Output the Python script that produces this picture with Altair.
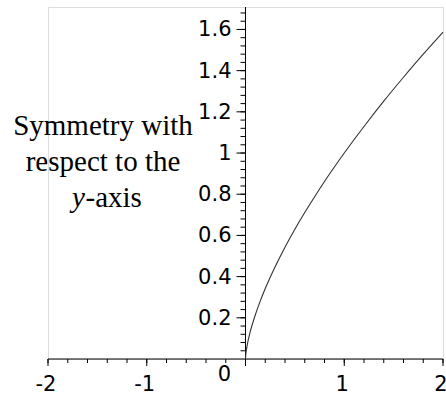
import altair as alt
import pandas as pd

# Curve y = |x|^(2/3) on the right half, sampled points
curve_x = [0.0, 0.002, 0.01, 0.02, 0.05, 0.1, 0.15, 0.2, 0.3, 0.4, 0.5, 0.6,
           0.7, 0.8, 0.9, 1.0, 1.2, 1.4, 1.6, 1.8, 2.0]
curve_y = [0.0, 0.016, 0.046, 0.074, 0.136, 0.215, 0.282, 0.342, 0.448, 0.543,
           0.630, 0.711, 0.788, 0.862, 0.932, 1.0, 1.129, 1.252, 1.368, 1.480, 1.587]

x_major = [-2, -1, 0, 1, 2]
x_major_labels = ["-2", "-1", "0", "1", "2"]
x_minor = [round(-2 + 0.2 * i, 2) for i in range(21)]
y_major = [0.2, 0.4, 0.6, 0.8, 1.0, 1.2, 1.4, 1.6]
y_major_labels = ["0.2", "0.4", "0.6", "0.8", "1", "1.2", "1.4", "1.6"]
y_minor = [round(0.04 * i, 2) for i in range(1, 43)]

note_lines = ["Symmetry with", "respect to the"]

W, H = 395, 352
X0 = W / 2  # pixel position of x = 0
YMAX = 1.709

xs = alt.Scale(domain=[-2, 2], nice=False, zero=False)
ys = alt.Scale(domain=[0, YMAX], nice=False, zero=False)

curve_df = pd.DataFrame({"x": curve_x, "y": curve_y})
xmaj_df = pd.DataFrame({"v": x_major, "t": x_major_labels})
xmin_df = pd.DataFrame({"v": x_minor})
ymaj_df = pd.DataFrame({"v": y_major, "t": y_major_labels})
ymin_df = pd.DataFrame({"v": y_minor})
xaxis_df = pd.DataFrame({"x": [-2], "x2": [2], "y": [0]})
yaxis_df = pd.DataFrame({"x": [0], "y": [0], "y2": [YMAX]})
one_df = pd.DataFrame({"k": [0]})

tick_font = "DejaVu Sans"
serif = "Liberation Serif"

curve = alt.Chart(curve_df).mark_line(
    color="#333333", strokeWidth=1.1, interpolate="monotone"
).encode(
    x=alt.X("x:Q", scale=xs, axis=None),
    y=alt.Y("y:Q", scale=ys, axis=None),
)

x_axis_line = alt.Chart(xaxis_df).mark_rule(color="black", strokeWidth=1).encode(
    x=alt.X("x:Q", scale=xs, axis=None), x2="x2:Q",
    y=alt.Y("y:Q", scale=ys, axis=None),
)
y_axis_line = alt.Chart(yaxis_df).mark_rule(color="black", strokeWidth=1).encode(
    x=alt.X("x:Q", scale=xs, axis=None),
    y=alt.Y("y:Q", scale=ys, axis=None), y2="y2:Q",
)

x_minor_ticks = alt.Chart(xmin_df).mark_rule(color="black").encode(
    x=alt.X("v:Q", scale=xs, axis=None), y=alt.value(H), y2=alt.value(H + 4)
)
x_major_ticks = alt.Chart(xmaj_df).mark_rule(color="black").encode(
    x=alt.X("v:Q", scale=xs, axis=None), y=alt.value(H), y2=alt.value(H + 7)
)
x_labels = alt.Chart(xmaj_df).transform_filter("datum.v != 0").mark_text(
    font=tick_font, fontSize=21, align="center", baseline="alphabetic", dx=-2, color="black"
).encode(
    x=alt.X("v:Q", scale=xs, axis=None), y=alt.value(H + 32), text="t:N"
)
x_zero_label = alt.Chart(xmaj_df).transform_filter("datum.v == 0").mark_text(
    font=tick_font, fontSize=21, align="center", baseline="alphabetic", dx=-21, color="black"
).encode(
    x=alt.X("v:Q", scale=xs, axis=None), y=alt.value(H + 22), text="t:N"
)

y_minor_ticks = alt.Chart(ymin_df).mark_rule(color="black").encode(
    y=alt.Y("v:Q", scale=ys, axis=None), x=alt.value(X0 - 5), x2=alt.value(X0)
)
y_major_ticks = alt.Chart(ymaj_df).mark_rule(color="black").encode(
    y=alt.Y("v:Q", scale=ys, axis=None), x=alt.value(X0 - 9), x2=alt.value(X0)
)
y_labels = alt.Chart(ymaj_df).mark_text(
    font=tick_font, fontSize=21, align="right", baseline="middle", dy=1, color="black"
).encode(
    y=alt.Y("v:Q", scale=ys, axis=None), x=alt.value(X0 - 14), text="t:N"
)

note = alt.Chart(one_df).mark_text(
    font=serif, fontSize=29, align="center", baseline="alphabetic",
    lineHeight=36, color="black"
).encode(x=alt.value(55), y=alt.value(128), text=alt.value(note_lines))

note_y = alt.Chart(one_df).mark_text(
    font=serif, fontSize=29, fontStyle="italic", align="left", baseline="alphabetic",
    color="black"
).encode(x=alt.value(24), y=alt.value(200), text=alt.value("y"))
note_axis = alt.Chart(one_df).mark_text(
    font=serif, fontSize=29, align="left", baseline="alphabetic", color="black"
).encode(x=alt.value(37.5), y=alt.value(200), text=alt.value("-axis"))

chart = alt.layer(
    x_axis_line, y_axis_line, x_minor_ticks, x_major_ticks, y_minor_ticks,
    y_major_ticks, curve, x_labels, x_zero_label, y_labels, note, note_y, note_axis
).properties(
    width=W, height=H,
    autosize=alt.AutoSizeParams(type="none"),
    padding={"left": 48, "top": 7, "right": 3, "bottom": 36},
).configure_view(stroke=None).configure(background="white")

chart.save("out.html", embed_options={"renderer": "svg", "actions": False})
